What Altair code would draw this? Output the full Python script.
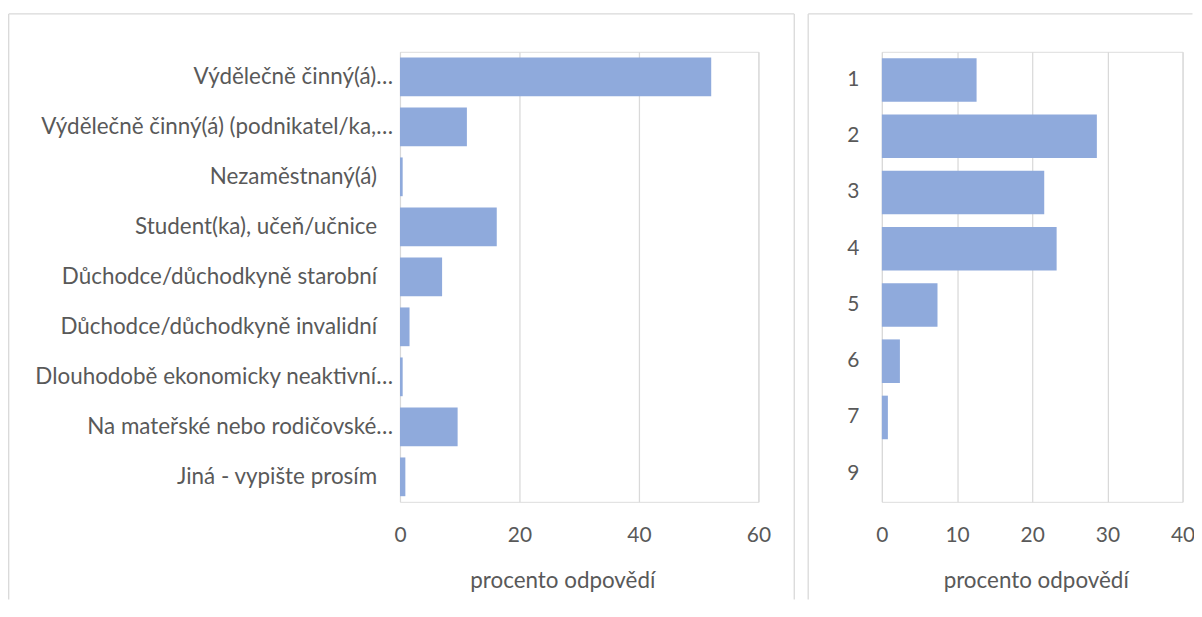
import altair as alt
import pandas as pd

# ---- data ----
left_categories = [
    "Výdělečně činný(á)…",
    "Výdělečně činný(á) (podnikatel/ka,…",
    "Nezaměstnaný(á)",
    "Student(ka), učeň/učnice",
    "Důchodce/důchodkyně starobní",
    "Důchodce/důchodkyně invalidní",
    "Dlouhodobě ekonomicky neaktivní…",
    "Na mateřské nebo rodičovské…",
    "Jiná - vypište prosím",
]
left_values = [52.1, 11.2, 0.45, 16.2, 7.05, 1.6, 0.45, 9.65, 0.9]
left_ticks = [0, 20, 40, 60]

right_categories = ["1", "2", "3", "4", "5", "6", "7", "9"]
right_values = [12.6, 28.6, 21.6, 23.25, 7.4, 2.4, 0.8, 0.0]
right_ticks = [0, 10, 20, 30, 40]

x_title = "procento odpovědí"

# ---- style ----
FONT = "Lato"
FS = 22.5      # category labels and axis titles
FS_NUM = 21    # numeric labels
TXT = "#595959"
BAR = "#8FAADC"
GRID = "#D9D9D9"
BORDER = "#D9D9D9"

df_left = pd.DataFrame({"cat": left_categories, "value": left_values})
df_right = pd.DataFrame({"cat": right_categories, "value": right_values})
one = pd.DataFrame({"k": [0]})


def x_axis(ticks, title_x):
    return alt.Axis(
        values=ticks, grid=True, gridColor=GRID, gridWidth=1.25, domain=False,
        ticks=False, tickSize=0, labelPadding=39.5, labelBaseline="alphabetic",
        labelFont=FONT, labelFontSize=FS_NUM, labelColor=TXT, labelFlush=False,
        title=x_title, titleFont=FONT, titleFontSize=FS, titleColor=TXT,
        titleFontWeight="normal", titleX=title_x, titleY=86,
        titleAlign="center", titleBaseline="alphabetic", titleAngle=0,
    )


def rule(x=None, x2=None, y=None, y2=None):
    enc = {}
    if x is not None:
        enc["x"] = alt.value(x)
    if x2 is not None:
        enc["x2"] = alt.value(x2)
    if y is not None:
        enc["y"] = alt.value(y)
    if y2 is not None:
        enc["y2"] = alt.value(y2)
    return alt.Chart(one).mark_rule(color=BORDER, strokeWidth=1.3).encode(**enc)


band = alt.Scale(paddingInner=0.225, paddingOuter=0.1125)

left_base = alt.Chart(df_left)
left_bars = left_base.mark_bar(color=BAR).encode(
    x=alt.X("value:Q", scale=alt.Scale(domain=[0, 60], nice=False, zero=True),
            axis=x_axis(left_ticks, 163)),
    y=alt.Y("cat:N", sort=left_categories, scale=band, axis=None),
)

is_cut = "indexof(datum.cat, '…') >= 0"
label_style = dict(align="right", baseline="middle", font=FONT, fontSize=FS, color=TXT)
left_labels_cut = left_base.transform_filter(is_cut).mark_text(**label_style).encode(
    y=alt.Y("cat:N", sort=left_categories, scale=band, axis=None),
    x=alt.value(-7),
    text="cat:N",
)
left_labels_full = left_base.transform_filter("!(" + is_cut + ")").mark_text(**label_style).encode(
    y=alt.Y("cat:N", sort=left_categories, scale=band, axis=None),
    x=alt.value(-23),
    text="cat:N",
)

left = alt.layer(
    left_bars,
    left_labels_cut,
    left_labels_full,
    rule(x=-393, y=-38, y2=550),
    rule(x=396, y=-38, y2=550),
    rule(x=-393, x2=396, y=-38),
).properties(width=360, height=452)

right_bars = alt.Chart(df_right).mark_bar(color=BAR).encode(
    x=alt.X("value:Q", scale=alt.Scale(domain=[0, 40], nice=False, zero=True),
            axis=x_axis(right_ticks, 154.5)),
    y=alt.Y("cat:N", sort=right_categories, scale=band,
            axis=alt.Axis(title=None, domain=False, ticks=False, tickSize=0,
                          labelPadding=23, labelFont=FONT, labelFontSize=FS_NUM,
                          labelColor=TXT)),
)

right = alt.layer(
    right_bars,
    rule(x=-74, y=-38, y2=550),
    rule(x=-74, x2=312, y=-38),
).properties(width=302, height=452)

chart = alt.hconcat(left, right, spacing=10).properties(
    padding={"left": -1.3, "top": 2.7, "right": -1.5, "bottom": 0}
).configure_view(stroke=None).configure(background="white")

chart.save("out.html", embed_options={"renderer": "svg", "actions": False})
